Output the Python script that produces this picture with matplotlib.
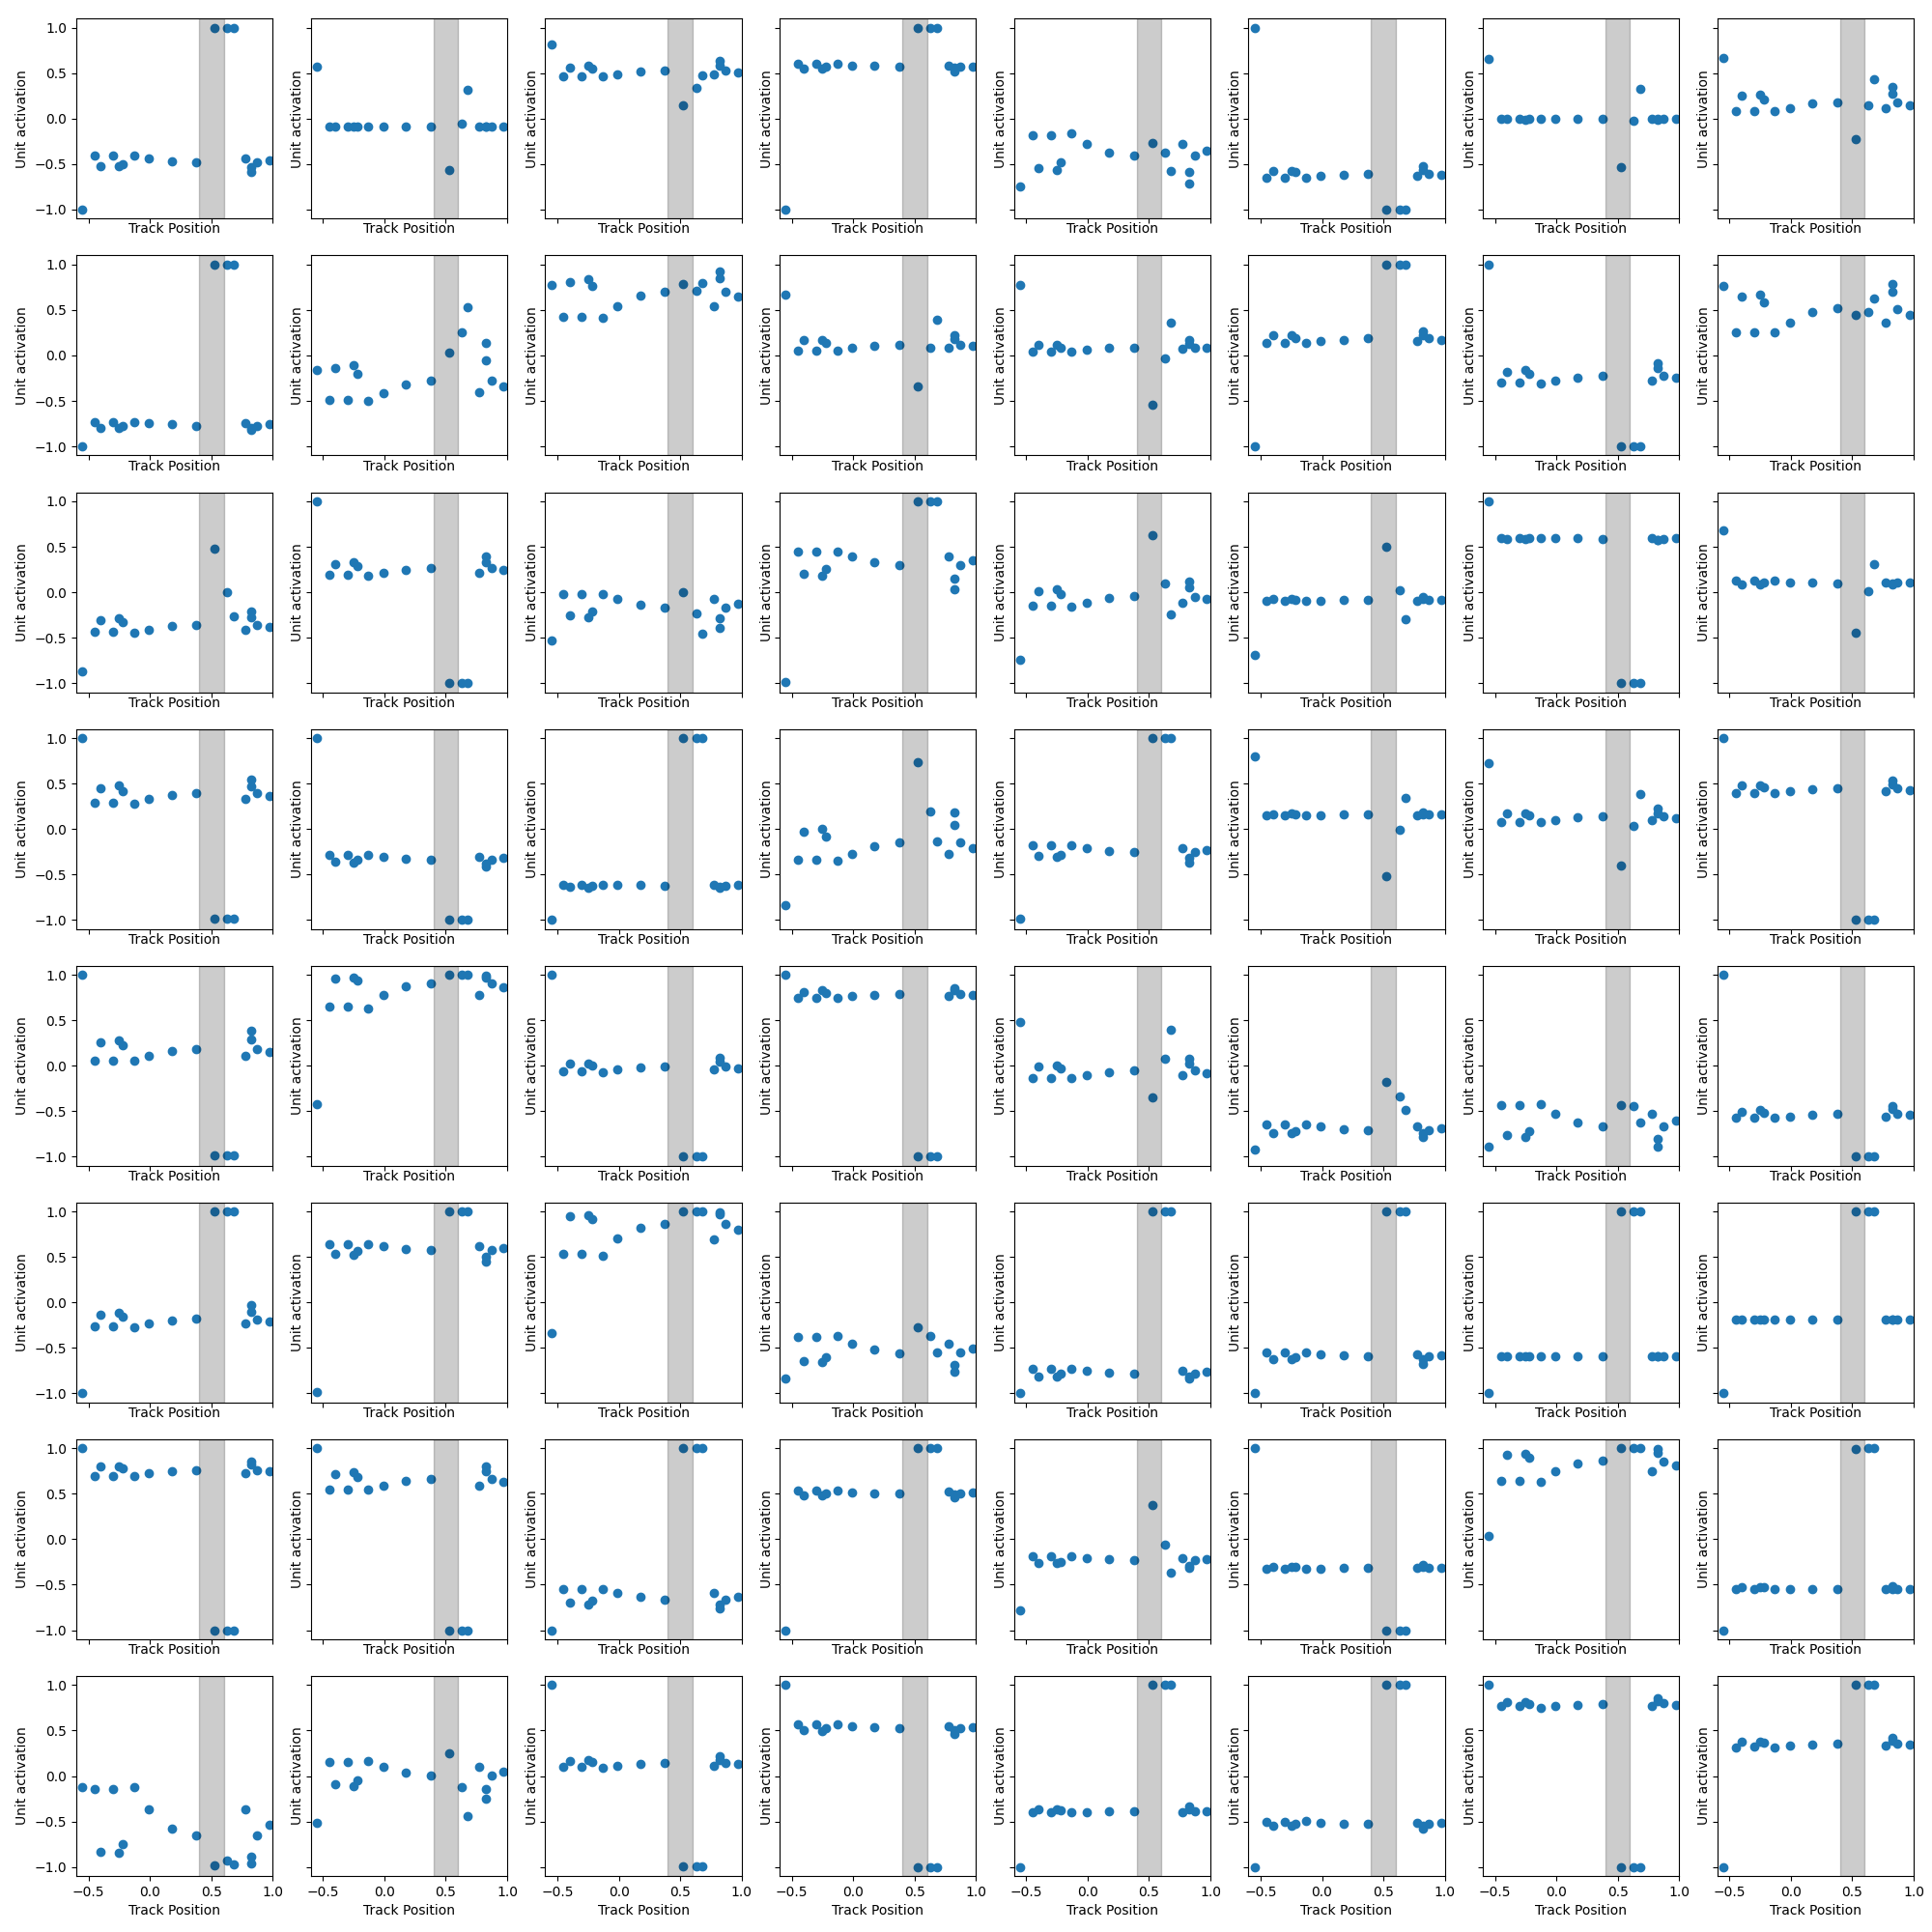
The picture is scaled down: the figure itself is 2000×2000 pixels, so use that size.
import matplotlib
matplotlib.use("Agg")
import matplotlib.pyplot as plt

# Track positions shared by every unit
track_pos = [-0.55, -0.45, -0.40, -0.30, -0.25, -0.22, -0.13, -0.01, 0.175, 0.375,
             0.525, 0.63, 0.68, 0.775, 0.825, 0.825, 0.87, 0.97]

# Unit activations (row, column of the grid)
u00 = [-1.0, -0.40, -0.52, -0.40, -0.52, -0.50, -0.40, -0.44, -0.47, -0.48, 1.0, 1.0, 1.0, -0.44, -0.53, -0.59, -0.48, -0.46]
u01 = [0.575, -0.09, -0.09, -0.09, -0.09, -0.09, -0.09, -0.09, -0.09, -0.09, -0.56, -0.05, 0.32, -0.09, -0.09, -0.09, -0.09, -0.09]
u02 = [0.82, 0.47, 0.565, 0.47, 0.58, 0.555, 0.47, 0.49, 0.525, 0.53, 0.15, 0.335, 0.48, 0.49, 0.635, 0.585, 0.535, 0.51]
u03 = [-1.0, 0.60, 0.555, 0.60, 0.555, 0.575, 0.60, 0.585, 0.58, 0.575, 1.0, 1.0, 1.0, 0.585, 0.52, 0.56, 0.575, 0.575]
u04 = [-0.74, -0.18, -0.54, -0.18, -0.56, -0.475, -0.165, -0.275, -0.37, -0.41, -0.265, -0.37, -0.57, -0.275, -0.59, -0.71, -0.41, -0.35]
u05 = [1.0, -0.645, -0.57, -0.645, -0.57, -0.59, -0.645, -0.63, -0.615, -0.605, -1.0, -1.0, -1.0, -0.63, -0.52, -0.56, -0.605, -0.615]
u06 = [0.653, 0.0, 0.0, 0.0, -0.01, 0.0, 0.0, 0.0, 0.0, 0.0, -0.53, -0.02, 0.33, 0.0, 0.0, -0.01, 0.0, 0.0]
u07 = [0.67, 0.087, 0.25, 0.087, 0.265, 0.215, 0.087, 0.12, 0.165, 0.18, -0.22, 0.145, 0.43, 0.12, 0.345, 0.27, 0.18, 0.15]

u10 = [-1.0, -0.73, -0.795, -0.73, -0.795, -0.775, -0.73, -0.745, -0.76, -0.775, 1.0, 1.0, 1.0, -0.745, -0.82, -0.80, -0.78, -0.76]
u11 = [-0.155, -0.487, -0.135, -0.487, -0.105, -0.2, -0.497, -0.41, -0.315, -0.275, 0.034, 0.25, 0.533, -0.405, 0.133, -0.048, -0.275, -0.338]
u12 = [0.78, 0.427, 0.81, 0.427, 0.837, 0.77, 0.416, 0.547, 0.664, 0.703, 0.788, 0.713, 0.8, 0.547, 0.92, 0.85, 0.703, 0.643]
u13 = [0.67, 0.058, 0.165, 0.058, 0.175, 0.143, 0.058, 0.09, 0.108, 0.115, -0.335, 0.08, 0.388, 0.09, 0.22, 0.18, 0.115, 0.108]
u14 = [0.777, 0.044, 0.122, 0.044, 0.122, 0.09, 0.044, 0.065, 0.09, 0.09, -0.54, -0.03, 0.366, 0.069, 0.165, 0.13, 0.09, 0.08]
u15 = [-1.0, 0.143, 0.218, 0.143, 0.218, 0.196, 0.133, 0.154, 0.175, 0.186, 1.0, 1.0, 1.0, 0.154, 0.27, 0.22, 0.186, 0.175]
u16 = [1.0, -0.295, -0.18, -0.295, -0.16, -0.2, -0.306, -0.274, -0.24, -0.22, -1.0, -1.0, -1.0, -0.274, -0.087, -0.143, -0.22, -0.24]
u17 = [0.76, 0.26, 0.646, 0.26, 0.667, 0.586, 0.25, 0.366, 0.473, 0.522, 0.45, 0.473, 0.628, 0.366, 0.79, 0.696, 0.515, 0.448]

u20 = [-0.87, -0.434, -0.31, -0.434, -0.29, -0.327, -0.448, -0.412, -0.37, -0.36, 0.48, 0.0, -0.26, -0.412, -0.214, -0.278, -0.36, -0.38]
u21 = [1.0, 0.193, 0.31, 0.193, 0.33, 0.29, 0.18, 0.218, 0.25, 0.267, -1.0, -1.0, -1.0, 0.218, 0.39, 0.335, 0.267, 0.246]
u22 = [-0.53, -0.02, -0.25, -0.02, -0.274, -0.207, -0.02, -0.073, -0.136, -0.168, 0.0, -0.232, -0.455, -0.07, -0.29, -0.39, -0.168, -0.126]
u23 = [-0.99, 0.448, 0.2, 0.448, 0.18, 0.26, 0.448, 0.395, 0.33, 0.296, 1.0, 1.0, 1.0, 0.395, 0.15, 0.033, 0.3, 0.35]
u24 = [-0.74, -0.147, 0.01, -0.147, 0.033, -0.02, -0.158, -0.115, -0.062, -0.04, 0.628, 0.097, -0.242, -0.115, 0.12, 0.05, -0.048, -0.073]
u25 = [-0.69, -0.094, -0.073, -0.094, -0.073, -0.083, -0.094, -0.094, -0.083, -0.083, 0.5, 0.02, -0.295, -0.094, -0.05, -0.073, -0.083, -0.083]
u26 = [1.0, 0.6, 0.586, 0.6, 0.586, 0.6, 0.6, 0.6, 0.6, 0.586, -1.0, -1.0, -1.0, 0.6, 0.575, 0.57, 0.586, 0.6]
u27 = [0.68, 0.126, 0.087, 0.126, 0.087, 0.104, 0.126, 0.112, 0.112, 0.097, -0.444, 0.012, 0.31, 0.112, 0.087, 0.095, 0.104, 0.112]

u30 = [1.0, 0.285, 0.445, 0.285, 0.476, 0.42, 0.274, 0.327, 0.37, 0.39, -0.99, -0.99, -0.99, 0.327, 0.547, 0.472, 0.39, 0.36]
u31 = [1.0, -0.29, -0.36, -0.29, -0.37, -0.34, -0.29, -0.31, -0.33, -0.34, -1.0, -1.0, -1.0, -0.31, -0.41, -0.38, -0.34, -0.32]
u32 = [-1.0, -0.61, -0.635, -0.61, -0.643, -0.63, -0.61, -0.617, -0.617, -0.63, 1.0, 1.0, 1.0, -0.617, -0.65, -0.635, -0.63, -0.617]
u33 = [-0.84, -0.34, -0.03, -0.34, 0.0, -0.083, -0.35, -0.278, -0.19, -0.147, 0.73, 0.193, -0.136, -0.278, 0.182, 0.04, -0.147, -0.21]
u34 = [-0.99, -0.18, -0.30, -0.18, -0.31, -0.28, -0.18, -0.21, -0.245, -0.255, 1.0, 1.0, 1.0, -0.21, -0.32, -0.37, -0.255, -0.235]
u35 = [0.795, 0.148, 0.158, 0.148, 0.17, 0.158, 0.148, 0.148, 0.158, 0.158, -0.515, -0.012, 0.34, 0.148, 0.18, 0.158, 0.158, 0.158]
u36 = [0.724, 0.073, 0.17, 0.073, 0.17, 0.148, 0.073, 0.094, 0.126, 0.137, -0.4, 0.037, 0.382, 0.094, 0.222, 0.17, 0.137, 0.115]
u37 = [1.0, 0.393, 0.478, 0.393, 0.478, 0.456, 0.393, 0.414, 0.435, 0.446, -1.0, -1.0, -1.0, 0.414, 0.528, 0.488, 0.446, 0.43]

u40 = [1.0, 0.053, 0.26, 0.053, 0.28, 0.223, 0.053, 0.106, 0.16, 0.18, -0.99, -0.99, -0.99, 0.106, 0.387, 0.294, 0.18, 0.15]
u41 = [-0.426, 0.65, 0.957, 0.65, 0.97, 0.936, 0.628, 0.777, 0.872, 0.904, 1.0, 1.0, 1.0, 0.777, 0.993, 0.975, 0.904, 0.86]
u42 = [1.0, -0.064, 0.021, -0.064, 0.028, 0.0, -0.074, -0.043, -0.021, -0.01, -1.0, -1.0, -1.0, -0.043, 0.085, 0.043, -0.01, -0.032]
u43 = [1.0, 0.745, 0.81, 0.745, 0.83, 0.798, 0.745, 0.766, 0.777, 0.787, -1.0, -1.0, -1.0, 0.766, 0.85, 0.83, 0.787, 0.777]
u44 = [0.479, -0.138, -0.01, -0.138, 0.0, -0.032, -0.138, -0.106, -0.074, -0.053, -0.35, 0.074, 0.394, -0.106, 0.074, 0.02, -0.053, -0.085]
u45 = [-0.926, -0.65, -0.745, -0.65, -0.745, -0.723, -0.65, -0.67, -0.70, -0.713, -0.18, -0.34, -0.49, -0.67, -0.745, -0.787, -0.713, -0.69]
u46 = [-0.894, -0.436, -0.766, -0.436, -0.787, -0.723, -0.426, -0.532, -0.628, -0.67, -0.436, -0.447, -0.628, -0.532, -0.81, -0.887, -0.67, -0.606]
u47 = [1.0, -0.574, -0.51, -0.574, -0.49, -0.52, -0.574, -0.564, -0.543, -0.532, -1.0, -1.0, -1.0, -0.564, -0.447, -0.479, -0.532, -0.543]

u50 = [-1.0, -0.266, -0.135, -0.266, -0.113, -0.16, -0.277, -0.23, -0.202, -0.18, 1.0, 1.0, 1.0, -0.23, -0.032, -0.106, -0.188, -0.21]
u51 = [-0.99, 0.638, 0.532, 0.638, 0.521, 0.564, 0.638, 0.617, 0.585, 0.574, 1.0, 1.0, 1.0, 0.617, 0.5, 0.447, 0.574, 0.596]
u52 = [-0.34, 0.532, 0.947, 0.532, 0.957, 0.915, 0.51, 0.702, 0.82, 0.862, 1.0, 1.0, 1.0, 0.69, 0.99, 0.968, 0.862, 0.798]
u53 = [-0.84, -0.383, -0.65, -0.383, -0.66, -0.606, -0.372, -0.457, -0.52, -0.564, -0.277, -0.372, -0.553, -0.457, -0.691, -0.766, -0.553, -0.51]
u54 = [-1.0, -0.73, -0.81, -0.73, -0.81, -0.78, -0.73, -0.755, -0.776, -0.787, 1.0, 1.0, 1.0, -0.755, -0.837, -0.81, -0.787, -0.766]
u55 = [-1.0, -0.553, -0.628, -0.546, -0.628, -0.606, -0.546, -0.574, -0.585, -0.596, 1.0, 1.0, 1.0, -0.574, -0.674, -0.628, -0.596, -0.585]
u56 = [-1.0, -0.596, -0.596, -0.596, -0.596, -0.596, -0.596, -0.596, -0.596, -0.596, 1.0, 1.0, 1.0, -0.596, -0.596, -0.596, -0.596, -0.596]
u57 = [-1.0, -0.19, -0.19, -0.19, -0.19, -0.19, -0.19, -0.19, -0.19, -0.19, 1.0, 1.0, 1.0, -0.19, -0.19, -0.19, -0.19, -0.19]

u60 = [1.0, 0.69, 0.798, 0.69, 0.798, 0.777, 0.69, 0.723, 0.745, 0.755, -1.0, -1.0, -1.0, 0.723, 0.85, 0.82, 0.755, 0.745]
u61 = [1.0, 0.543, 0.713, 0.543, 0.734, 0.68, 0.543, 0.585, 0.638, 0.66, -1.0, -1.0, -1.0, 0.585, 0.798, 0.745, 0.66, 0.628]
u62 = [-1.0, -0.553, -0.702, -0.553, -0.713, -0.68, -0.553, -0.596, -0.638, -0.66, 1.0, 1.0, 1.0, -0.596, -0.723, -0.766, -0.66, -0.628]
u63 = [-1.0, 0.532, 0.479, 0.532, 0.479, 0.5, 0.532, 0.511, 0.5, 0.5, 1.0, 1.0, 1.0, 0.521, 0.457, 0.489, 0.5, 0.511]
u64 = [-0.787, -0.19, -0.266, -0.19, -0.266, -0.248, -0.19, -0.213, -0.223, -0.234, 0.372, -0.064, -0.372, -0.213, -0.31, -0.29, -0.234, -0.223]
u65 = [1.0, -0.33, -0.309, -0.33, -0.309, -0.309, -0.33, -0.33, -0.319, -0.319, -1.0, -1.0, -1.0, -0.319, -0.287, -0.309, -0.319, -0.319]
u66 = [0.032, 0.642, 0.926, 0.642, 0.936, 0.894, 0.628, 0.745, 0.83, 0.862, 1.0, 1.0, 1.0, 0.745, 0.99, 0.947, 0.851, 0.809]
u67 = [-1.0, -0.553, -0.532, -0.543, -0.532, -0.532, -0.553, -0.543, -0.543, -0.543, 0.99, 1.0, 1.0, -0.543, -0.521, -0.543, -0.543, -0.543]

u70 = [-0.12, -0.142, -0.829, -0.142, -0.85, -0.754, -0.12, -0.37, -0.584, -0.658, -0.979, -0.929, -0.968, -0.37, -0.883, -0.957, -0.658, -0.541]
u71 = [-0.52, 0.157, -0.089, 0.157, -0.11, -0.046, 0.167, 0.103, 0.039, 0.007, 0.249, -0.12, -0.441, 0.103, -0.142, -0.249, 0.007, 0.05]
u72 = [1.0, 0.103, 0.167, 0.103, 0.178, 0.157, 0.093, 0.114, 0.135, 0.146, -0.99, -0.99, -0.99, 0.114, 0.22, 0.178, 0.146, 0.135]
u73 = [1.0, 0.57, 0.505, 0.57, 0.495, 0.527, 0.57, 0.548, 0.537, 0.527, -1.0, -1.0, -1.0, 0.548, 0.463, 0.505, 0.527, 0.537]
u74 = [-1.0, -0.402, -0.37, -0.402, -0.37, -0.381, -0.402, -0.402, -0.391, -0.391, 1.0, 1.0, 1.0, -0.402, -0.338, -0.37, -0.391, -0.391]
u75 = [-1.0, -0.509, -0.552, -0.509, -0.552, -0.53, -0.498, -0.52, -0.53, -0.53, 1.0, 1.0, 1.0, -0.52, -0.584, -0.552, -0.53, -0.52]
u76 = [1.0, 0.769, 0.812, 0.769, 0.812, 0.79, 0.747, 0.769, 0.78, 0.79, -1.0, -1.0, -1.0, 0.769, 0.854, 0.822, 0.801, 0.78]
u77 = [-1.0, 0.313, 0.377, 0.324, 0.377, 0.366, 0.313, 0.334, 0.345, 0.356, 1.0, 1.0, 1.0, 0.334, 0.42, 0.388, 0.356, 0.345]

units = [
    [u00, u01, u02, u03, u04, u05, u06, u07],
    [u10, u11, u12, u13, u14, u15, u16, u17],
    [u20, u21, u22, u23, u24, u25, u26, u27],
    [u30, u31, u32, u33, u34, u35, u36, u37],
    [u40, u41, u42, u43, u44, u45, u46, u47],
    [u50, u51, u52, u53, u54, u55, u56, u57],
    [u60, u61, u62, u63, u64, u65, u66, u67],
    [u70, u71, u72, u73, u74, u75, u76, u77],
]

x_ticks = [-0.5, 0.0, 0.5, 1.0]
y_ticks = [-1.0, -0.5, 0.0, 0.5, 1.0]

fig, axes = plt.subplots(8, 8, figsize=(20, 20), dpi=100, sharex=True, sharey=True)
fig.subplots_adjust(left=0.0395, right=0.9905, top=0.9903, bottom=0.029,
                    wspace=0.193, hspace=0.184)

for r in range(8):
    for c in range(8):
        ax = axes[r, c]
        ax.scatter(track_pos, units[r][c], color="#1f77b4")
        ax.axvspan(0.4, 0.6, color="k", alpha=0.2)
        ax.set_xlabel("Track Position", labelpad=(4.0 if r == 7 else -0.6))
        ax.set_ylabel("Unit activation", labelpad=(4.0 if c == 0 else 1.0))

axes[0, 0].set_xlim(-0.6, 1.0)
axes[0, 0].set_ylim(-1.1, 1.1)
axes[0, 0].set_xticks(x_ticks)
axes[0, 0].set_yticks(y_ticks)

fig.savefig("out.png", dpi=100)
